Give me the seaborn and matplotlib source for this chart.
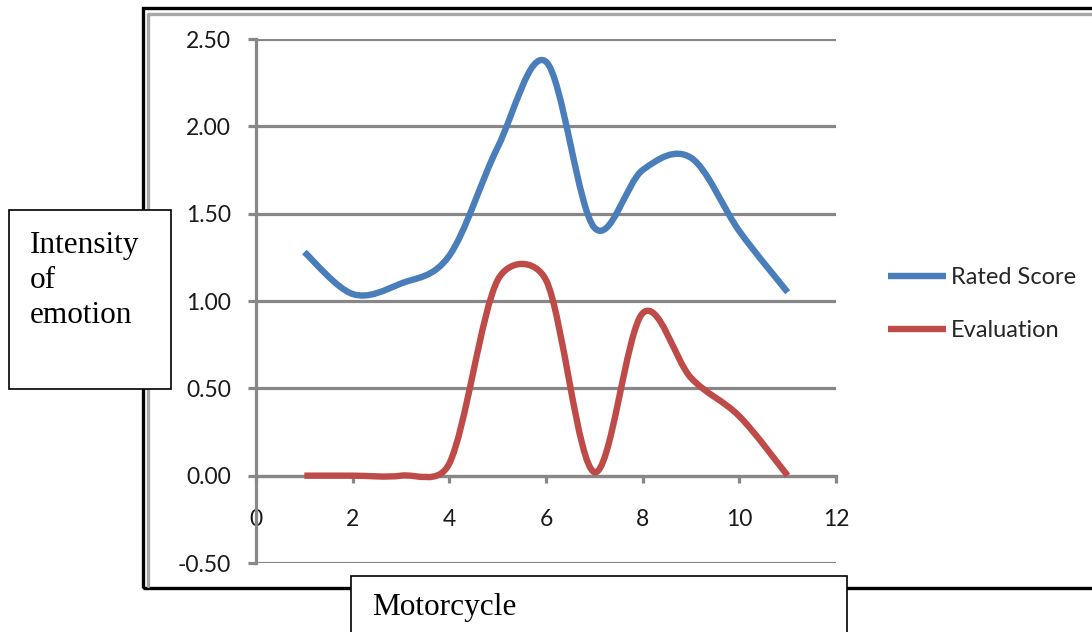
import numpy as np
import pandas as pd
import matplotlib
matplotlib.use("Agg")
import matplotlib.pyplot as plt
import seaborn as sns
from matplotlib.path import Path
from matplotlib.patches import PathPatch, Rectangle
from matplotlib.lines import Line2D

# ---- data -------------------------------------------------------------
motorcycle = [1, 2, 3, 4, 5, 6, 7, 8, 9, 10, 11]
rated_score = [1.28, 1.04, 1.10, 1.26, 1.88, 2.37, 1.42, 1.75, 1.82, 1.40, 1.05]
evaluation = [0.00, 0.00, 0.00, 0.07, 1.12, 1.12, 0.02, 0.93, 0.56, 0.34, 0.00]
series_names = ["Rated Score", "Evaluation"]
series_colors = ["#4A7EBB", "#BE4B48"]
x_ticks = [0, 2, 4, 6, 8, 10, 12]
y_ticks = [-0.5, 0.0, 0.5, 1.0, 1.5, 2.0, 2.5]
y_label = "Intensity\nof\nemotion"
x_label = "Motorcycle"

df = pd.DataFrame({
    "Motorcycle": motorcycle * 2,
    "value": rated_score + evaluation,
    "series": [series_names[0]] * len(motorcycle) + [series_names[1]] * len(motorcycle),
})

sns.set_theme(style="white")
plt.rcParams["font.family"] = ["Lato", "DejaVu Sans"]

W, H = 1092, 632
fig = plt.figure(figsize=(W / 100, H / 100), dpi=100)
fig.patch.set_facecolor("white")


def fx(px):
    return px / W


def fy(py):
    return 1 - py / H


ax = fig.add_axes([fx(256), fy(563), fx(836) - fx(256), fy(39) - fy(563)])

palette = dict(zip(series_names, series_colors))
sns.lineplot(data=df, x="Motorcycle", y="value", hue="series", palette=palette,
             linewidth=4.6, ax=ax, legend=False, sort=False)

grid_col = "#878787"
ax.set_xlim(0, 12)
ax.set_ylim(-0.5, 2.5)


def smooth_path(xy, trans):
    """Cubic Bezier through the points (smoothed line). Control points sit at
    1/6 of the neighbour-to-neighbour vector, but never farther than half of
    the segment they belong to (measured on screen)."""
    pts = trans.transform(np.asarray(xy, dtype=float))
    n = len(pts)
    seg = np.hypot(*np.diff(pts, axis=0).T)
    fwd = pts.copy()
    bwd = pts.copy()
    for i in range(n):
        prv = pts[i - 1] if i > 0 else pts[i]
        nxt = pts[i + 1] if i < n - 1 else pts[i]
        off = (nxt - prv) / 6.0
        size = np.hypot(*off)
        if size == 0:
            continue
        if i < n - 1:
            f = min(1.0, (seg[i] / 2.0) / size)
            fwd[i] = pts[i] + off * f
        if i > 0:
            b = min(1.0, (seg[i - 1] / 2.0) / size)
            bwd[i] = pts[i] - off * b
    verts = [pts[0]]
    codes = [Path.MOVETO]
    for i in range(n - 1):
        verts += [fwd[i], bwd[i + 1], pts[i + 1]]
        codes += [Path.CURVE4] * 3
    verts = trans.inverted().transform(np.array(verts))
    return Path(verts, codes)


# replace the straight polylines with smoothed curves through the same points
for line in list(ax.lines):
    xy = line.get_xydata()
    patch = PathPatch(smooth_path(xy, ax.transData), facecolor="none",
                      edgecolor=line.get_color(), linewidth=line.get_linewidth(),
                      capstyle="butt", joinstyle="round",
                      transform=ax.transData, zorder=3)
    ax.add_patch(patch)
    line.set_visible(False)

ax.set_xticks(x_ticks)
ax.set_yticks(y_ticks)
ax.set_xticklabels([str(t) for t in x_ticks])
ax.set_yticklabels([f"{t:.2f}" for t in y_ticks])
ax.set_xlabel("")
ax.set_ylabel("")

ax.yaxis.grid(True, color=grid_col, linewidth=2.3)
ax.xaxis.grid(False)
ax.set_axisbelow(True)

for side in ["top", "right"]:
    ax.spines[side].set_visible(False)
ax.spines["left"].set_color(grid_col)
ax.spines["left"].set_linewidth(2.3)
ax.spines["bottom"].set_color(grid_col)
ax.spines["bottom"].set_linewidth(2.3)
ax.spines["bottom"].set_position(("data", 0))

ax.tick_params(axis="y", which="major", direction="out", length=6, width=2.3,
               color=grid_col, pad=12, labelsize=16.5, labelcolor="#1a1a1a", left=True)
ax.tick_params(axis="x", which="major", direction="out", length=5, width=2.3,
               color=grid_col, pad=19, labelsize=16.5, labelcolor="#1a1a1a", bottom=True)

# legend
handles = [Line2D([], [], color=c, linewidth=4.6, solid_capstyle="butt") for c in series_colors]
fig.legend(handles, series_names, loc="upper left",
           bbox_to_anchor=(fx(888), fy(267)), bbox_transform=fig.transFigure,
           frameon=False, fontsize=17, handlelength=2.45, handletextpad=0.2,
           labelspacing=1.36, borderpad=0, borderaxespad=0)

# chart-area frame
fig.add_artist(Rectangle((fx(143), fy(588)), 1.2, fy(8) - fy(588),
                         transform=fig.transFigure, facecolor="none",
                         edgecolor="black", linewidth=2.4, zorder=0.5))
fig.add_artist(Line2D([fx(148), fx(148)], [fy(14), fy(586)], transform=fig.transFigure,
                      color="#a6a6a6", linewidth=2.4, zorder=0.5))
fig.add_artist(Line2D([fx(148), 1.0], [fy(14), fy(14)], transform=fig.transFigure,
                      color="#a6a6a6", linewidth=2.4, zorder=0.5))

# axis-title text boxes
serif = ["Liberation Serif", "DejaVu Serif"]
fig.add_artist(Rectangle((fx(9), fy(389)), fx(171) - fx(9), fy(210) - fy(389),
                         transform=fig.transFigure, facecolor="white",
                         edgecolor="black", linewidth=1.2, zorder=5))
fig.text(fx(30), fy(231), y_label, ha="left", va="top", fontsize=22.5,
         family=serif, color="black", linespacing=1.28, zorder=6)

fig.add_artist(Rectangle((fx(351), fy(660)), fx(847) - fx(351), fy(576) - fy(660),
                         transform=fig.transFigure, facecolor="white",
                         edgecolor="black", linewidth=1.2, zorder=5))
fig.text(fx(372), fy(615), x_label, ha="left", va="baseline", fontsize=22.5,
         family=serif, color="black", zorder=6)

fig.savefig("out.png", dpi=100, facecolor="white")
